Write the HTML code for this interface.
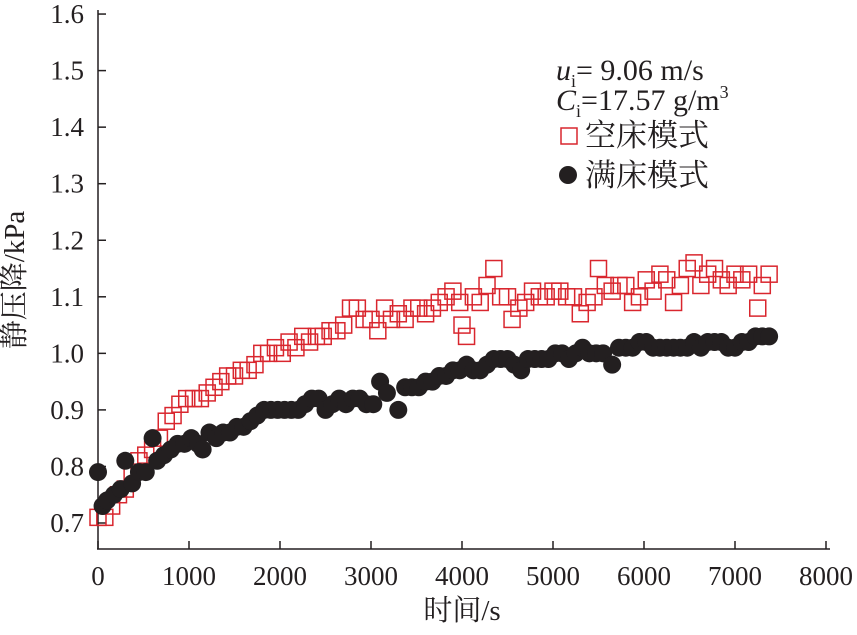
<!DOCTYPE html>
<html><head><meta charset="utf-8">
<style>
body{margin:0;background:#fff}
svg text{font-family:"Liberation Serif","Noto Serif CJK SC",serif;fill:#231f20}
</style></head><body>
<svg id="chart" width="857" height="630" viewBox="0 0 857 630">
<g id="axes"></g>
<g id="empty"></g>
<g id="full"></g>
<text x="24" y="280" font-size="29" text-anchor="middle" transform="rotate(-90 24 280)">静压降/kPa</text>
<text x="462" y="620" font-size="29" text-anchor="middle">时间/s</text>
<g>
<text x="556" y="80" font-size="30"><tspan font-style="italic">u</tspan><tspan font-size="18" dy="7">i</tspan><tspan dy="-7">= 9.06 m/s</tspan></text>
<text x="556" y="110" font-size="30"><tspan font-style="italic">C</tspan><tspan font-size="18" dy="7">i</tspan><tspan dy="-7">=17.57 g/m</tspan><tspan font-size="18" dy="-12">3</tspan></text>
<rect x="561" y="128" width="16" height="16" fill="none" stroke="#d9262e" stroke-width="1.5"/>
<text x="585" y="146" font-size="31">空床模式</text>
<circle cx="568" cy="175" r="9" fill="#231f20"/>
<text x="585" y="186" font-size="31">满床模式</text>
</g>
</svg>
<script>
const xTicks=[0,1000,2000,3000,4000,5000,6000,7000,8000];
const yTicks=[0.7,0.8,0.9,1.0,1.1,1.2,1.3,1.4,1.5,1.6];
const emptyT=[0,75,150,225,300,375,450,525,600,675,750,825,900,975,1050,1125,1200,1275,1350,1425,1500,1575,1650,1725,1800,1875,1950,2025,2100,2175,2250,2325,2400,2475,2550,2625,2700,2775,2850,2925,3000,3075,3150,3225,3300,3375,3450,3525,3600,3675,3750,3825,3900,3975,4000,4050,4125,4200,4275,4350,4425,4500,4550,4625,4700,4775,4850,4925,5000,5075,5150,5225,5300,5375,5450,5500,5575,5650,5725,5800,5875,5950,6025,6100,6175,6250,6325,6400,6475,6550,6625,6700,6775,6850,6925,7000,7075,7150,7250,7300,7375];
const emptyV=[0.71,0.71,0.73,0.75,0.76,0.79,0.81,0.82,0.83,0.85,0.88,0.89,0.91,0.92,0.92,0.92,0.93,0.94,0.95,0.96,0.96,0.97,0.97,0.98,1.00,1.00,1.01,1.00,1.02,1.01,1.03,1.02,1.03,1.03,1.04,1.04,1.05,1.08,1.08,1.06,1.06,1.04,1.08,1.06,1.07,1.06,1.08,1.08,1.07,1.08,1.09,1.10,1.11,1.09,1.05,1.03,1.10,1.09,1.12,1.15,1.10,1.10,1.06,1.08,1.09,1.11,1.10,1.10,1.11,1.11,1.10,1.10,1.07,1.09,1.10,1.15,1.12,1.11,1.12,1.12,1.09,1.10,1.13,1.11,1.14,1.13,1.09,1.12,1.15,1.16,1.12,1.14,1.15,1.13,1.12,1.14,1.13,1.14,1.08,1.12,1.14];
const fullT=[0,50,100,175,250,300,375,450,525,600,650,725,800,875,950,1025,1100,1150,1225,1300,1375,1450,1525,1600,1675,1750,1825,1900,1975,2050,2125,2200,2275,2350,2425,2500,2575,2650,2725,2800,2875,2950,3025,3100,3175,3300,3375,3450,3525,3600,3675,3750,3825,3900,3975,4050,4125,4200,4275,4350,4425,4500,4575,4650,4725,4800,4875,4950,5025,5100,5175,5250,5325,5400,5475,5550,5650,5725,5800,5875,5950,6025,6100,6175,6250,6325,6400,6475,6550,6625,6700,6775,6850,6925,7000,7075,7150,7225,7300,7375];
const fullV=[0.79,0.73,0.74,0.75,0.76,0.81,0.77,0.79,0.79,0.85,0.81,0.82,0.83,0.84,0.84,0.85,0.84,0.83,0.86,0.85,0.86,0.86,0.87,0.87,0.88,0.89,0.90,0.90,0.90,0.90,0.90,0.90,0.91,0.92,0.92,0.90,0.91,0.92,0.91,0.92,0.92,0.91,0.91,0.95,0.93,0.90,0.94,0.94,0.94,0.95,0.95,0.96,0.96,0.97,0.97,0.98,0.97,0.97,0.98,0.99,0.99,0.99,0.98,0.97,0.99,0.99,0.99,0.99,1.00,1.00,0.99,1.00,1.01,1.00,1.00,1.00,0.98,1.01,1.01,1.01,1.02,1.02,1.01,1.01,1.01,1.01,1.01,1.01,1.02,1.01,1.02,1.02,1.02,1.01,1.01,1.02,1.02,1.03,1.03,1.03];
const NS='http://www.w3.org/2000/svg';
const X=v=>98+v*0.091;
const Y=v=>523-(v-0.7)*565.5;
function mk(tag,attrs,parent){const e=document.createElementNS(NS,tag);for(const k in attrs)e.setAttribute(k,attrs[k]);parent.appendChild(e);return e;}
const ax=document.getElementById('axes');
let l=mk('line',{x1:98,y1:10,x2:98,y2:549,stroke:'#231f20','stroke-width':1.5},ax);


l=mk('line',{x1:97,y1:549,x2:830,y2:549,stroke:'#231f20','stroke-width':1.5},ax);


xTicks.forEach(t=>{
  const tk=mk('line',{x1:X(t),y1:549,x2:X(t),y2:541,stroke:'#231f20','stroke-width':1.5},ax);
  
  
  const tx=mk('text',{x:X(t),y:585,'font-size':27,'text-anchor':'middle'},ax);tx.textContent=t;
  
  
});
yTicks.forEach(t=>{
  const tk=mk('line',{x1:98,y1:Y(t),x2:106,y2:Y(t),stroke:'#231f20','stroke-width':1.5},ax);
  
  
  const tx=mk('text',{x:84,y:Y(t)+9,'font-size':27,'text-anchor':'end'},ax);tx.textContent=t.toFixed(1);
  
  
});
const ge=document.getElementById('empty');
emptyT.forEach((t,i)=>{
  const r=mk('rect',{x:X(t)-8,y:Y(emptyV[i])-8,width:16,height:16,fill:'none',stroke:'#d9262e','stroke-width':1.5},ge);
  
  
});
const gf=document.getElementById('full');
fullT.forEach((t,i)=>{
  const c=mk('circle',{cx:X(t),cy:Y(fullV[i]),r:9,fill:'#231f20'},gf);
  
  
});
</script>
</body></html>
